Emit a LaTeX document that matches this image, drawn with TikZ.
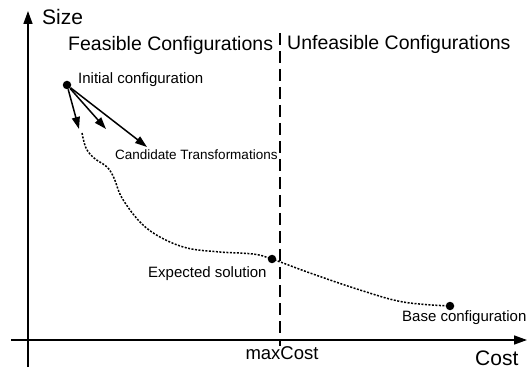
\documentclass[tikz,border=0pt]{standalone}
\usepackage{fontspec}
\setmainfont{Liberation Sans}
\usetikzlibrary{arrows.meta}
\begin{document}
\begin{tikzpicture}[x=1pt,y=-1pt,
  axis/.style={line width=1.5pt,-{Triangle[length=13pt,width=9pt]}},
  trans/.style={line width=1.5pt,-{Triangle[length=12pt,width=8pt]}},
  pt/.style={circle,fill=black,inner sep=0pt,minimum size=8.5pt},
  lbl/.style={inner sep=0pt,anchor=west,font=\fontsize{15}{17}\selectfont},
  big/.style={inner sep=0pt,anchor=west,font=\fontsize{19.5}{22}\selectfont},
  ax/.style={inner sep=0pt,anchor=west,font=\fontsize{21}{24}\selectfont},
  limit/.style={line width=1.5pt,dash pattern=on 12pt off 6pt},
  path/.style={line width=1.5pt,dash pattern=on 2pt off 1.5pt}]
\useasboundingbox (0,0) rectangle (527,371);
% axes
\coordinate (ybot) at (28,367);
\coordinate (ytop) at (28,11);
\coordinate (xleft) at (11,340);
\coordinate (xright) at (527,340);
\draw[axis] (ybot) -- (ytop);
\draw[axis] (xleft) -- (xright);
\node[ax] (size) at (42,17) {Size};
\node[ax] (cost) at (475,358) {Cost};
\node[inner sep=0pt,font=\fontsize{18.5}{21}\selectfont] (maxc) at (282,353) {maxCost};
% limit line
\coordinate (ltop) at (280,33);
\coordinate (lbot) at (280,346);
\draw[limit] (ltop) -- (lbot);
\node[big] (feas) at (68,45) {Feasible Configurations};
\node[big] (unfeas) at (287,44) {Unfeasible Configurations};
% points
\node[pt] (init) at (67,85) {};
\node[pt] (exp) at (272,259) {};
\node[pt] (base) at (450,306) {};
\node[lbl] (initl) at (78,80) {Initial configuration};
\node[lbl,font=\fontsize{13.5}{16}\selectfont] (candl) at (115,155) {Candidate Transformations};
\node[lbl] (expl) at (148,274) {Expected solution};
\node[lbl] (basel) at (402,318) {Base configuration};
% transformations
\coordinate (t1) at (79,129);
\coordinate (t2) at (106,129);
\coordinate (t3) at (147,147);
\draw[trans] (init) -- (t1);
\draw[trans] (init) -- (t2);
\draw[trans] (init) -- (t3);
% search path
\draw[path] plot[smooth,tension=0.6] coordinates {(82,133) (86,148) (94,158) (107,167) (114,178) (122,198) (140,222) (160,237) (187,248) (220,252) (253,254) (272,259) (310,273) (360,290) (403,302) (450,306)};
\end{tikzpicture}
\end{document}
